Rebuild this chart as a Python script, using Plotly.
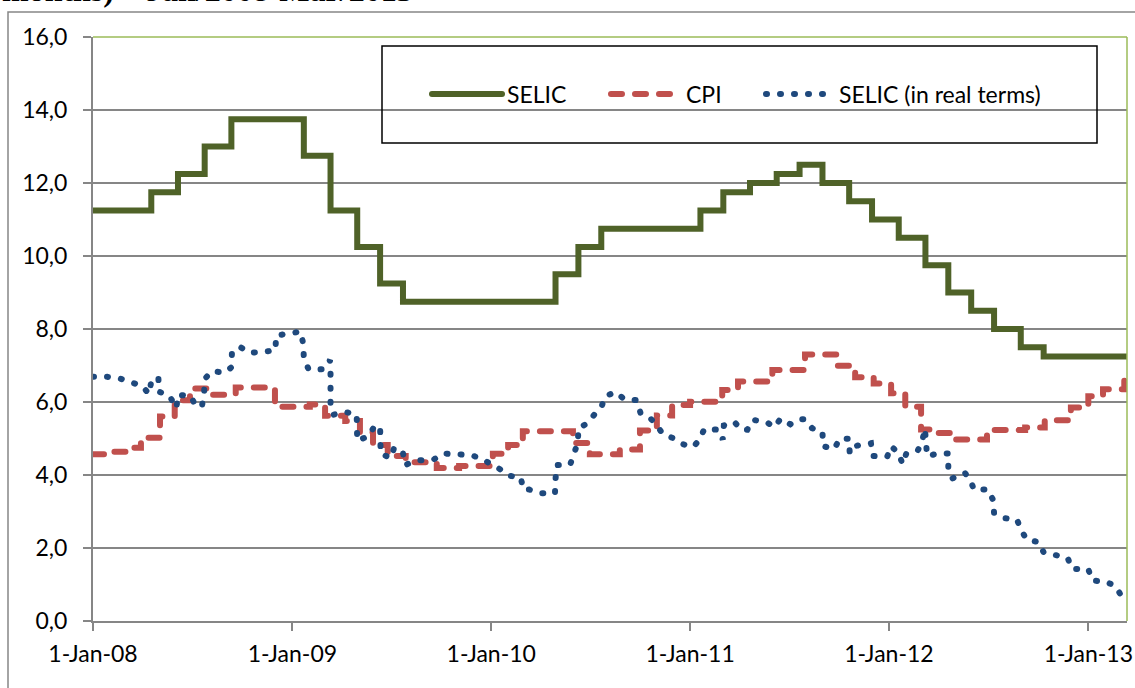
import plotly.graph_objects as go

# ---------------- data ----------------
selic_dates = ["2008-01-01", "2008-04-17", "2008-06-05", "2008-07-24", "2008-09-11",
               "2009-01-22", "2009-03-12", "2009-04-30", "2009-06-11", "2009-07-23",
               "2010-04-29", "2010-06-10", "2010-07-22", "2011-01-20", "2011-03-03",
               "2011-04-21", "2011-06-09", "2011-07-21", "2011-09-01", "2011-10-20",
               "2011-12-01", "2012-01-19", "2012-03-08", "2012-04-19", "2012-05-31",
               "2012-07-12", "2012-08-30", "2012-10-11", "2013-03-13"]
selic_values = [11.25, 11.75, 12.25, 13.00, 13.75,
                12.75, 11.25, 10.25, 9.25, 8.75,
                9.50, 10.25, 10.75, 11.25, 11.75,
                12.00, 12.25, 12.50, 12.00, 11.50,
                11.00, 10.50, 9.75, 9.00, 8.50,
                8.00, 7.50, 7.25, 7.25]

cpi_dates = ["2008-01-01", "2008-02-05", "2008-03-01", "2008-03-29", "2008-05-03",
             "2008-05-30", "2008-06-27", "2008-07-30", "2008-09-19", "2008-11-30",
             "2009-02-02", "2009-03-02", "2009-04-08", "2009-05-05", "2009-05-29",
             "2009-06-25", "2009-07-28", "2009-09-23", "2009-11-03", "2010-01-04",
             "2010-02-01", "2010-02-28", "2010-05-31", "2010-07-01", "2010-08-25",
             "2010-10-01", "2010-11-01", "2010-11-29", "2011-01-01", "2011-03-01",
             "2011-03-30", "2011-06-01", "2011-07-31", "2011-09-29", "2011-10-31",
             "2011-12-04", "2012-01-05", "2012-01-31", "2012-02-29", "2012-03-22",
             "2012-04-22", "2012-06-29", "2012-09-07", "2012-10-13", "2012-11-30",
             "2013-01-01", "2013-01-28", "2013-03-08", "2013-03-13"]
cpi_values = [4.57, 4.64, 4.75, 5.02, 5.60,
              6.05, 6.37, 6.20, 6.40, 5.87,
              5.93, 5.62, 5.48, 5.17, 4.82,
              4.52, 4.35, 4.19, 4.25, 4.58,
              4.82, 5.20, 4.88, 4.57, 4.70,
              5.22, 5.63, 5.92, 6.01, 6.33,
              6.56, 6.88, 7.30, 6.99, 6.68,
              6.51, 6.24, 5.87, 5.25, 5.15,
              4.97, 5.23, 5.30, 5.50, 5.85,
              6.16, 6.35, 6.60, 6.60]

real_dates = ["2008-01-01", "2008-01-27", "2008-02-20", "2008-03-10", "2008-03-31",
              "2008-04-13", "2008-04-17", "2008-04-30", "2008-05-01", "2008-05-20",
              "2008-06-02", "2008-06-05", "2008-06-29", "2008-07-07", "2008-07-19",
              "2008-07-23", "2008-07-24", "2008-08-06", "2008-08-31", "2008-09-11",
              "2008-09-12", "2008-09-26", "2008-10-13", "2008-11-07", "2008-12-01",
              "2008-12-02", "2008-12-26", "2009-01-16", "2009-01-21", "2009-01-22",
              "2009-01-30", "2009-02-04", "2009-02-28", "2009-03-11", "2009-03-12",
              "2009-03-12", "2009-03-12", "2009-03-17", "2009-04-07", "2009-04-29",
              "2009-04-30", "2009-04-30", "2009-05-22", "2009-05-31", "2009-06-11",
              "2009-06-12", "2009-06-12", "2009-07-01", "2009-07-07", "2009-07-23",
              "2009-07-27", "2009-08-14", "2009-08-23", "2009-09-18", "2009-10-04",
              "2009-10-30", "2009-11-23", "2009-12-13", "2010-01-01", "2010-01-17",
              "2010-02-02", "2010-02-24", "2010-03-01", "2010-03-12", "2010-04-02",
              "2010-04-28", "2010-04-29", "2010-05-01", "2010-05-26", "2010-06-02",
              "2010-06-09", "2010-06-10", "2010-06-27", "2010-07-09", "2010-07-22",
              "2010-07-29", "2010-08-18", "2010-09-01", "2010-09-25", "2010-10-02",
              "2010-10-19", "2010-11-01", "2010-11-12", "2010-12-01", "2010-12-17",
              "2011-01-07", "2011-01-19", "2011-01-27", "2011-02-22", "2011-03-02",
              "2011-03-04", "2011-03-23", "2011-04-05", "2011-04-16", "2011-04-26",
              "2011-05-20", "2011-06-05", "2011-06-16", "2011-07-04", "2011-07-20",
              "2011-07-31", "2011-08-13", "2011-09-01", "2011-09-02", "2011-09-23",
              "2011-10-02", "2011-10-20", "2011-10-21", "2011-11-02", "2011-11-29",
              "2011-12-02", "2011-12-29", "2012-01-05", "2012-01-19", "2012-01-26",
              "2012-02-02", "2012-02-23", "2012-03-02", "2012-03-07", "2012-03-09",
              "2012-03-11", "2012-04-01", "2012-04-19", "2012-04-19", "2012-04-26",
              "2012-05-16", "2012-05-20", "2012-05-31", "2012-06-05", "2012-07-01",
              "2012-07-10", "2012-07-12", "2012-07-30", "2012-08-23", "2012-08-31",
              "2012-09-10", "2012-10-02", "2012-10-11", "2012-11-01", "2012-11-24",
              "2012-12-02", "2012-12-06", "2013-01-01", "2013-01-08", "2013-02-01",
              "2013-02-20", "2013-03-02"]
real_values = [6.69, 6.69, 6.64, 6.53, 6.44,
               6.22, 6.57, 6.68, 6.28, 6.18,
               5.83, 6.20, 6.16, 5.89, 5.89,
               6.25, 6.63, 6.84, 6.81, 6.95,
               7.33, 7.52, 7.35, 7.37, 7.42,
               7.82, 7.86, 7.93, 7.59, 7.21,
               6.92, 6.88, 6.90, 7.15, 6.77,
               6.37, 5.98, 5.65, 5.73, 5.66,
               5.28, 4.94, 5.07, 5.33, 5.33,
               4.99, 4.58, 4.47, 4.76, 4.61,
               4.27, 4.39, 4.39, 4.43, 4.59,
               4.59, 4.55, 4.46, 4.32, 4.16,
               3.98, 3.94, 3.60, 3.60, 3.50,
               3.50, 3.88, 4.27, 4.29, 4.60,
               4.89, 5.28, 5.42, 5.65, 5.85,
               6.16, 6.27, 6.09, 6.05, 5.70,
               5.57, 5.36, 5.12, 5.01, 4.85,
               4.77, 4.98, 5.26, 5.24, 4.97,
               5.36, 5.46, 5.24, 5.24, 5.51,
               5.46, 5.31, 5.54, 5.39, 5.53,
               5.53, 5.28, 5.18, 4.79, 4.71,
               4.99, 4.99, 4.59, 4.80, 4.87,
               4.52, 4.51, 4.79, 4.59, 4.30,
               4.59, 4.67, 4.92, 5.27, 4.92,
               4.52, 4.59, 4.59, 4.20, 3.90,
               4.05, 4.05, 3.80, 3.60, 3.60,
               3.32, 2.96, 2.82, 2.78, 2.48,
               2.23, 2.16, 1.88, 1.79, 1.73,
               1.43, 1.43, 1.42, 1.11, 1.08,
               0.96, 0.70]

x_tickvals = ["2008-01-01", "2009-01-01", "2010-01-01", "2011-01-01", "2012-01-01", "2013-01-01"]
x_ticktext = ["1-Jan-08", "1-Jan-09", "1-Jan-10", "1-Jan-11", "1-Jan-12", "1-Jan-13"]
y_tickvals = [0, 2, 4, 6, 8, 10, 12, 14, 16]
y_ticktext = ["0,0", "2,0", "4,0", "6,0", "8,0", "10,0", "12,0", "14,0", "16,0"]

series_names = ["SELIC", "CPI", "SELIC (in real terms)"]
title_text = "months) \u2013 Jan/2008-Mar/2013"

# ---------------- figure ----------------
W, H = 1135, 688
ML, MR, MT, MB = 93, 8, 37, 67
PW, PH = W - ML - MR, H - MT - MB

def px_x(p):
    return (p - ML) / PW

def px_y(p):
    return (H - MB - p) / PH

FONT = "Lato"
GRID = "#868686"

fig = go.Figure()
fig.add_trace(go.Scatter(x=selic_dates, y=selic_values, name=series_names[0], mode="lines",
                         line=dict(color="#4F6228", width=6, shape="hv"), legend="legend"))
fig.add_trace(go.Scatter(x=cpi_dates, y=cpi_values, name=series_names[1], mode="lines",
                         line=dict(color="#C0504D", width=6, shape="hv", dash="11px,13px"),
                         legend="legend2"))
fig.add_trace(go.Scatter(x=real_dates, y=real_values, name=series_names[2], mode="lines",
                         line=dict(color="#1F497D", width=6, dash="1px,13px"),
                         legend="legend3"))

leg_common = dict(orientation="h", xanchor="left", yanchor="middle",
                  bgcolor="rgba(0,0,0,0)", borderwidth=0, maxheight=200,
                  font=dict(family=FONT, size=23, color="black"))

fig.update_layout(
    width=W, height=H, autosize=False,
    margin=dict(l=ML, r=MR, t=MT, b=MB, pad=0, autoexpand=False),
    paper_bgcolor="white", plot_bgcolor="white",
    font=dict(family=FONT, size=23, color="black"),
    showlegend=True,
    legend=dict(x=px_x(427), y=px_y(94), itemwidth=70, **leg_common),
    legend2=dict(x=px_x(606), y=px_y(94), itemwidth=70, **leg_common),
    legend3=dict(x=px_x(761), y=px_y(94), itemwidth=68, **leg_common),
    xaxis=dict(type="date", range=["2008-01-01", "2013-03-13"],
               tickvals=x_tickvals, ticktext=x_ticktext, automargin=False,
               showgrid=False, zeroline=False,
               showline=True, linecolor=GRID, linewidth=2,
               ticks="outside", ticklen=8, tickcolor=GRID, tickwidth=2,
               ticklabelstandoff=3,
               tickfont=dict(family=FONT, size=23, color="black")),
    yaxis=dict(range=[0, 16], tickvals=y_tickvals, ticktext=y_ticktext, automargin=False,
               showgrid=True, gridcolor=GRID, gridwidth=1.5, zeroline=False,
               showline=True, linecolor=GRID, linewidth=2,
               ticks="outside", ticklen=8, tickcolor=GRID, tickwidth=2,
               ticklabelstandoff=11,
               tickfont=dict(family=FONT, size=23, color="black")),
    shapes=[
        # outer chart border
        dict(type="rect", xref="paper", yref="paper",
             x0=px_x(8), x1=px_x(1145), y0=px_y(700), y1=px_y(12),
             line=dict(color=GRID, width=1.5), fillcolor="rgba(0,0,0,0)", layer="below"),
        # plot-area border (top & right) in green
        dict(type="line", xref="paper", yref="paper", x0=0, x1=1, y0=1, y1=1,
             line=dict(color="#9BBB59", width=1.5)),
        dict(type="line", xref="paper", yref="paper", x0=1, x1=1, y0=0, y1=1,
             line=dict(color="#9BBB59", width=1.5)),
        # legend box
        dict(type="rect", xref="paper", yref="paper",
             x0=px_x(382), x1=px_x(1097), y0=px_y(143), y1=px_y(46),
             line=dict(color="black", width=1.5), fillcolor="rgba(0,0,0,0)"),
    ],
    annotations=[
        dict(text="<b>" + title_text + "</b>", xref="paper", yref="paper",
             x=px_x(0), y=px_y(10), xanchor="left", yanchor="bottom", showarrow=False,
             font=dict(family="Liberation Serif", size=32, color="black")),
    ],
)

post = """
(function(){
  document.body.style.margin='0';
  function fix(){
    document.querySelectorAll('path.js-line').forEach(function(p){
      p.style.strokeLinecap='round';
    });
  }
  fix();
  var gd=document.getElementById('{plot_id}');
  if(gd && gd.on){ gd.on('plotly_afterplot', fix); }
  setTimeout(fix, 50); setTimeout(fix, 300);
})();
"""

fig.write_html("out.html", post_script=post, config={"displayModeBar": False})
